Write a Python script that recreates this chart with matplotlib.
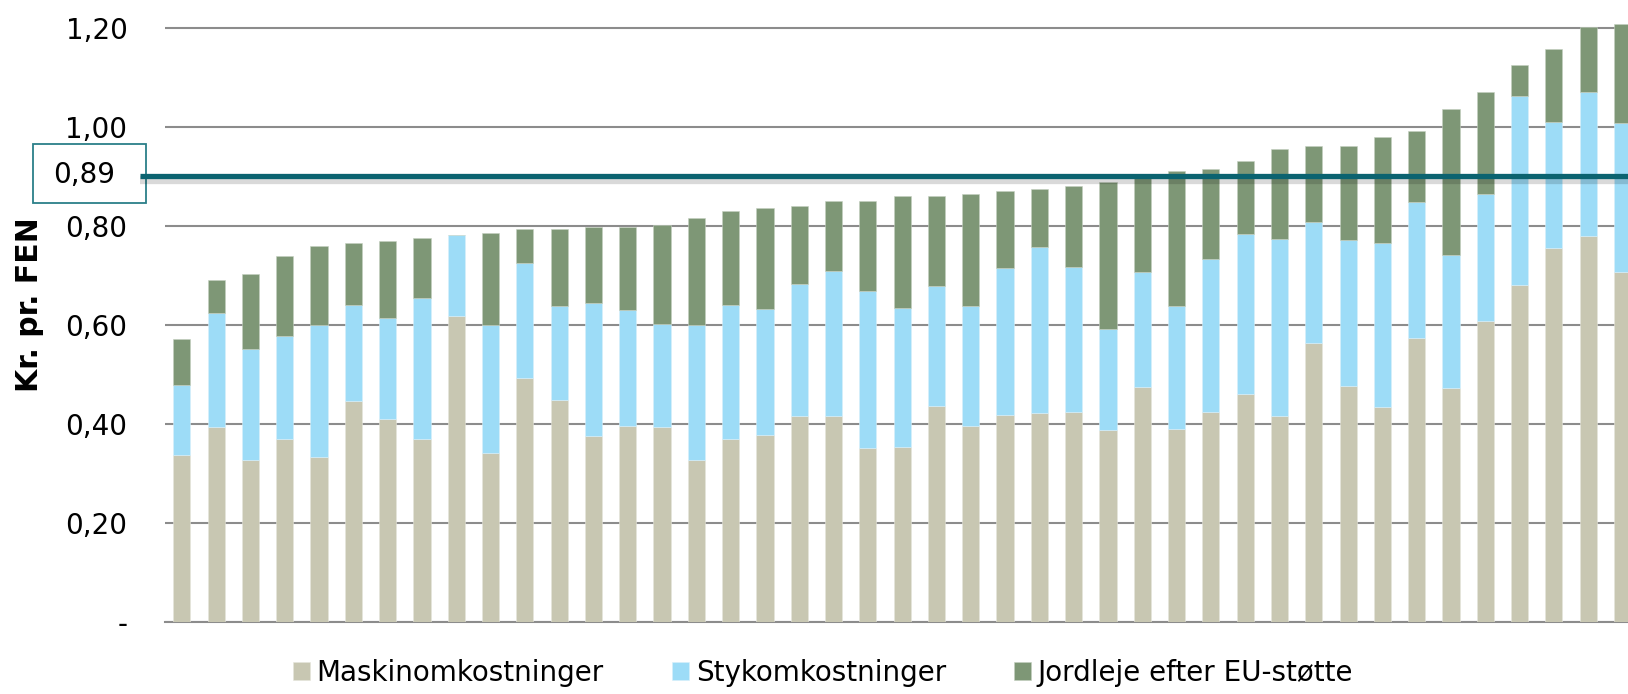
import matplotlib
matplotlib.use('Agg')
import matplotlib.pyplot as plt
import matplotlib.patheffects as pe
from matplotlib.patches import Rectangle
from matplotlib.transforms import blended_transform_factory
import numpy as np

# values, one bar per farm (kr. pr. FEN)
maskin = [0.336, 0.393, 0.326, 0.370, 0.333, 0.446, 0.410, 0.370, 0.617, 0.340,
          0.493, 0.447, 0.375, 0.396, 0.393, 0.326, 0.369, 0.377, 0.416, 0.416,
          0.350, 0.353, 0.435, 0.395, 0.417, 0.421, 0.424, 0.388, 0.475, 0.390,
          0.424, 0.460, 0.415, 0.564, 0.476, 0.434, 0.573, 0.473, 0.608, 0.681,
          0.755, 0.780, 0.707]
styk = [0.143, 0.230, 0.224, 0.208, 0.266, 0.193, 0.203, 0.285, 0.164, 0.259,
        0.232, 0.190, 0.268, 0.234, 0.209, 0.273, 0.271, 0.255, 0.266, 0.293,
        0.319, 0.280, 0.244, 0.242, 0.297, 0.337, 0.292, 0.204, 0.232, 0.247,
        0.308, 0.324, 0.358, 0.243, 0.295, 0.332, 0.275, 0.268, 0.256, 0.382,
        0.255, 0.290, 0.301]
jord = [0.093, 0.067, 0.153, 0.162, 0.161, 0.126, 0.156, 0.120, 0.000, 0.187,
        0.069, 0.157, 0.154, 0.167, 0.200, 0.217, 0.190, 0.204, 0.158, 0.141,
        0.181, 0.227, 0.181, 0.227, 0.156, 0.117, 0.165, 0.296, 0.191, 0.273,
        0.183, 0.147, 0.183, 0.154, 0.191, 0.214, 0.143, 0.296, 0.207, 0.062,
        0.147, 0.133, 0.200]
labels = ['Maskinomkostninger', 'Stykomkostninger', 'Jordleje efter EU-støtte']
yticks = [0, 0.2, 0.4, 0.6, 0.8, 1.0, 1.2]
yticklabels = ['-', '0,20', '0,40', '0,60', '0,80', '1,00', '1,20']
avg_level = 0.90
avg_text = '0,89'

c_maskin = '#c8c7b2'
c_styk = '#9ddcf7'
c_jord = '#7e9776'
c_teal = '#0b6370'

W, H = 1628, 694
fig = plt.figure(figsize=(W / 100, H / 100), dpi=100)
ax = fig.add_axes([165 / W, (H - 621.5) / H, (W - 165) / W, 621.5 / H])

x = np.arange(len(maskin))
maskin = np.array(maskin)
styk = np.array(styk)
jord = np.array(jord)

b1 = ax.bar(x, maskin, 0.5, color=c_maskin, edgecolor='#e6e6dc', linewidth=0.4)
b2 = ax.bar(x, styk, 0.5, bottom=maskin, color=c_styk, edgecolor='#d8f0fb', linewidth=0.4)
b3 = ax.bar(x, jord, 0.5, bottom=maskin + styk, color=c_jord, edgecolor='#c4d0c0', linewidth=0.4)

ax.set_xlim(-0.49, 42.16)
ax.set_ylim(0, 1.2566)
ax.set_xticks([])
ax.set_yticks(yticks)
ax.set_yticklabels(yticklabels, fontsize=20)
ax.tick_params(axis='y', length=0, pad=27)
for s in ax.spines.values():
    s.set_visible(False)
ax.set_axisbelow(True)
ax.yaxis.grid(True, color='#8c8c8c', linewidth=1.5)
ax.axhline(0, color='#8c8c8c', linewidth=1.5, clip_on=False, zorder=0.5)

# average line with label box on the left
tr = blended_transform_factory(fig.transFigure, ax.transData)
ax.plot([140 / W, 1.0], [avg_level, avg_level], color=c_teal, linewidth=3.8,
        transform=tr, clip_on=False, zorder=5, solid_capstyle='butt',
        path_effects=[pe.SimpleLineShadow(offset=(0, -2.5), shadow_color='k', alpha=0.15,
                                          linewidth=6),
                      pe.Normal()])
box = Rectangle((33 / W, 1 - 203 / H), 113 / W, 59 / H, transform=fig.transFigure,
                facecolor='white', edgecolor='#2b7f89', linewidth=1.3, zorder=-1)
fig.add_artist(box)
fig.text(84 / W, 1 - 175 / H, avg_text, ha='center', va='center', fontsize=20)

fig.text(30 / W, 1 - 305 / H, 'Kr. pr. FEN', rotation=90, ha='center', va='center',
         fontsize=21.5, fontweight='bold')

fig.legend([b1, b2, b3], labels, loc='center', bbox_to_anchor=(823 / W, 1 - 673 / H),
           ncol=3, frameon=False, fontsize=20, handlelength=0.61, handleheight=0.61,
           handletextpad=0.25, columnspacing=2.45, borderpad=0)

fig.savefig('out.png', dpi=100)
